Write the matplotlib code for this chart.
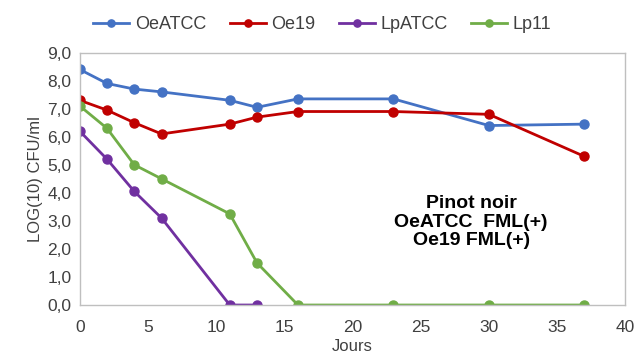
import matplotlib
matplotlib.use('Agg')
import matplotlib.pyplot as plt
from matplotlib.ticker import FuncFormatter

plt.rcParams['font.family'] = ['Liberation Sans', 'DejaVu Sans']

# jours de prelevement
jours_oe = [0, 2, 4, 6, 11, 13, 16, 23, 30, 37]
oe_atcc = [8.4, 7.9, 7.7, 7.6, 7.3, 7.05, 7.35, 7.35, 6.4, 6.45]
oe19 = [7.3, 6.95, 6.5, 6.1, 6.45, 6.7, 6.9, 6.9, 6.8, 5.3]

jours_lpatcc = [0, 2, 4, 6, 11, 13]
lp_atcc = [6.2, 5.2, 4.05, 3.1, 0.0, 0.0]

jours_lp11 = [0, 2, 4, 6, 11, 13, 16, 23, 30, 37]
lp11 = [7.1, 6.3, 5.0, 4.5, 3.25, 1.5, 0.0, 0.0, 0.0, 0.0]

fig = plt.figure(figsize=(6.38, 3.58), dpi=100)
ax = fig.add_axes([0.125, 0.148, 0.855, 0.705])

ax.plot(jours_oe, oe_atcc, '-o', color='#4472C4', lw=2, ms=6.5, label='OeATCC')
ax.plot(jours_oe, oe19, '-o', color='#C00000', lw=2, ms=6.5, label='Oe19')
ax.plot(jours_lpatcc, lp_atcc, '-o', color='#7030A0', lw=2, ms=6.5, label='LpATCC')
ax.plot(jours_lp11, lp11, '-o', color='#70AD47', lw=2, ms=6.5, label='Lp11')

ax.set_xlim(0, 40)
ax.set_ylim(0, 9)
ax.set_xticks(range(0, 41, 5))
ax.set_yticks(range(0, 10))
ax.yaxis.set_major_formatter(FuncFormatter(lambda v, p: f'{v:.1f}'.replace('.', ',')))
ax.tick_params(length=0, labelsize=12.5, colors='#404040', pad=6)
ax.tick_params(axis='x', pad=11)
for s in ax.spines.values():
    s.set_color('#BFBFBF')
    s.set_linewidth(1)
ax.set_xlabel('Jours', fontsize=12, color='#404040', labelpad=3)
ax.set_ylabel('LOG(10) CFU/ml', fontsize=12, color='#404040', labelpad=3)

ax.text(28.7, 2.95, 'Pinot noir\nOeATCC  FML(+)\nOe19 FML(+)', ha='center', va='center',
        fontsize=14, fontweight='bold', linespacing=1.1)

fig.legend(loc='upper center', bbox_to_anchor=(0.505, 1.0), ncol=4, frameon=False,
           fontsize=13, handlelength=2.0, columnspacing=1.3, handletextpad=0.3,
           markerscale=0.8, labelcolor='#404040')

fig.savefig('out.png', dpi=100)
